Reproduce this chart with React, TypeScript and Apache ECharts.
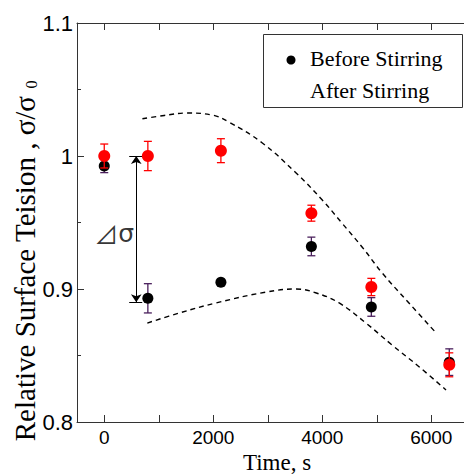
import React, { useEffect, useRef } from "react";
import * as echarts from "echarts";

// Axis ticks / labels
const xTickValues = [0, 1000, 2000, 3000, 4000, 5000, 6000];
const xLabelValues = [0, 2000, 4000, 6000];
const xMin = -500;
const xMax = 6600;
const yMin = 0.8;
const yMax = 1.1;
const yInterval = 0.1;

// Before stirring (black)
const beforeX = [0, 800, 2140, 3800, 4900, 6330];
const beforeY = [0.9925, 0.893, 0.905, 0.932, 0.8865, 0.845];
const beforeErr = [0.005, 0.011, 0.002, 0.007, 0.007, 0.01];

// After stirring (red)
const afterX = [0, 800, 2140, 3800, 4900, 6330];
const afterY = [1.0, 1.0, 1.004, 0.957, 0.9015, 0.843];
const afterErr = [0.009, 0.011, 0.009, 0.006, 0.0065, 0.009];

// Dashed envelope curves
const upperX = [700, 1100, 1500, 1980, 2290, 2900, 3520, 4000, 4360, 4730, 5100, 5590, 6090];
const upperY = [1.028, 1.0305, 1.0323, 1.0308, 1.0255, 1.0098, 0.9872, 0.9669, 0.9496, 0.9316, 0.912, 0.8895, 0.8669];
const lowerX = [790, 1380, 2050, 2970, 3520, 3890, 4310, 4800, 5280, 5780, 6270];
const lowerY = [0.8744, 0.882, 0.8895, 0.8977, 0.9, 0.897, 0.8895, 0.8744, 0.8579, 0.8414, 0.8241];

// Delta sigma annotation
const arrowX = 587;
const arrowTop = 1.0;
const arrowBottom = 0.89;
const capX = [458, 697];
const deltaLabelPos = [183, 0.942];

const legendNames = ["Before Stirring", "After Stirring"];

function errRender(color: string) {
  return (params: any, api: any) => {
    const x = api.value(0);
    const lo = api.value(1);
    const hi = api.value(2);
    const a = api.coord([x, hi]);
    const b = api.coord([x, lo]);
    const w = 4;
    const style = { stroke: color, lineWidth: 1.3, fill: "none" };
    return {
      type: "group",
      children: [
        { type: "line", shape: { x1: a[0], y1: a[1], x2: b[0], y2: b[1] }, style },
        { type: "line", shape: { x1: a[0] - w, y1: a[1], x2: a[0] + w, y2: a[1] }, style },
        { type: "line", shape: { x1: b[0] - w, y1: b[1], x2: b[0] + w, y2: b[1] }, style },
      ],
    };
  };
}

export default function App() {
  const ref = useRef<HTMLDivElement>(null);
  useEffect(() => {
    if (!ref.current) return;
    const chart = echarts.init(ref.current, undefined, { renderer: "svg" });
    const axisColor = "#333";
    const option: any = {
      animation: false,
      backgroundColor: "#fff",
      grid: { left: 77, top: 23, right: 0, bottom: 52, containLabel: false },
      xAxis: [
        {
          type: "value",
          min: xMin,
          max: xMax,
          position: "bottom",
          axisLine: { show: true, onZero: false, lineStyle: { color: axisColor, width: 1 } },
          axisTick: { show: true, inside: true, length: 7, customValues: xTickValues, lineStyle: { color: axisColor } },
          axisLabel: {
            show: true,
            customValues: xLabelValues,
            fontSize: 19,
            fontFamily: "Liberation Sans",
            color: "#000",
            margin: 6,
            formatter: (v: number) => String(v),
          },
          splitLine: { show: false },
        },
        {
          type: "value",
          min: xMin,
          max: xMax,
          position: "top",
          axisLine: { show: true, onZero: false, lineStyle: { color: axisColor, width: 1 } },
          axisTick: { show: true, inside: true, length: 7, customValues: xTickValues, lineStyle: { color: axisColor } },
          axisLabel: { show: false },
          splitLine: { show: false },
        },
      ],
      yAxis: {
        type: "value",
        min: yMin,
        max: yMax,
        interval: yInterval,
        axisLine: { show: true, onZero: false, lineStyle: { color: axisColor, width: 1 } },
        axisTick: { show: true, inside: true, length: 7, lineStyle: { color: axisColor } },
        minorTick: { show: true, splitNumber: 2, length: 4, lineStyle: { color: axisColor } },
        axisLabel: {
          fontSize: 22,
          fontFamily: "Liberation Sans",
          color: "#000",
          margin: 4,
          formatter: (v: number) => String(+v.toFixed(2)),
        },
        splitLine: { show: false },
        minorSplitLine: { show: false },
      },
      series: [
        {
          name: "upper",
          type: "line",
          data: upperX.map((x, i) => [x, upperY[i]]),
          smooth: 0.4,
          symbol: "none",
          lineStyle: { color: "#000", width: 1.4, type: [5, 4] },
          z: 1,
        },
        {
          name: "lower",
          type: "line",
          data: lowerX.map((x, i) => [x, lowerY[i]]),
          smooth: 0.4,
          symbol: "none",
          lineStyle: { color: "#000", width: 1.4, type: [5, 4] },
          z: 1,
        },
        {
          name: "beforeErr",
          type: "custom",
          renderItem: errRender("#4a1f5c"),
          data: beforeX.map((x, i) => [x, beforeY[i] - beforeErr[i], beforeY[i] + beforeErr[i]]),
          encode: { x: 0, y: [1, 2] },
          z: 2,
        },
        {
          name: legendNames[0],
          type: "scatter",
          data: beforeX.map((x, i) => [x, beforeY[i]]),
          symbolSize: 11,
          itemStyle: { color: "#000", opacity: 1 },
          z: 3,
        },
        {
          name: "afterErr",
          type: "custom",
          renderItem: errRender("#ff0000"),
          data: afterX.map((x, i) => [x, afterY[i] - afterErr[i], afterY[i] + afterErr[i]]),
          encode: { x: 0, y: [1, 2] },
          z: 4,
        },
        {
          name: legendNames[1],
          type: "scatter",
          data: afterX.map((x, i) => [x, afterY[i]]),
          symbolSize: 12,
          itemStyle: { color: "#ff0000", opacity: 1 },
          z: 5,
        },
        {
          name: "annotation",
          type: "scatter",
          data: [deltaLabelPos],
          symbolSize: 1,
          itemStyle: { color: "rgba(0,0,0,0)" },
          label: {
            show: true,
            position: "inside",
            formatter: "{t|⊿}{s|σ}",
            rich: {
              t: { fontSize: 24, fontFamily: "Noto Sans CJK JP", color: "#000" },
              s: { fontSize: 25, fontFamily: "DejaVu Sans", color: "#000" },
            },
          },
          silent: true,
          z: 6,
          markLine: {
            silent: true,
            symbol: ["arrow", "arrow"],
            symbolSize: 8,
            label: { show: false },
            lineStyle: { color: "#000", width: 1, type: "solid" },
            data: [
              [{ coord: [arrowX, arrowTop] }, { coord: [arrowX, arrowBottom] }],
              [
                { coord: [capX[0], arrowTop], symbol: "none" },
                { coord: [capX[1], arrowTop], symbol: "none" },
              ],
              [
                { coord: [capX[0], arrowBottom], symbol: "none" },
                { coord: [capX[1], arrowBottom], symbol: "none" },
              ],
            ],
          },
        },
      ],
      graphic: [
        {
          type: "rect",
          shape: { x: 263.5, y: 34.5, width: 199, height: 73 },
          style: { fill: "#fff", stroke: "#333", lineWidth: 1 },
          z: 100,
        },
        {
          type: "circle",
          shape: { cx: 291, cy: 60, r: 4.5 },
          style: { fill: "#000" },
          z: 101,
        },
        {
          type: "text",
          x: 310,
          y: 58,
          style: {
            text: legendNames[0],
            font: "22px 'Liberation Serif'",
            fill: "#000",
            textAlign: "left",
            textVerticalAlign: "middle",
          },
          z: 101,
        },
        {
          type: "text",
          x: 310,
          y: 90,
          style: {
            text: legendNames[1],
            font: "22px 'Liberation Serif'",
            fill: "#000",
            textAlign: "left",
            textVerticalAlign: "middle",
          },
          z: 101,
        },
        {
          type: "text",
          x: 277,
          y: 462,
          style: {
            text: "Time, s",
            font: "23px 'Liberation Serif'",
            fill: "#000",
            textAlign: "center",
            textVerticalAlign: "middle",
          },
        },
        {
          type: "text",
          x: 25,
          y: 261,
          rotation: Math.PI / 2,
          style: {
            text: "Relative Surface Teision , σ/σ {sub|0}",
            fontFamily: "Liberation Serif",
            fontSize: 29,
            fill: "#000",
            textAlign: "center",
            textVerticalAlign: "middle",
            rich: {
              sub: { fontSize: 16, fontFamily: "Liberation Serif", verticalAlign: "bottom", padding: [9, 0, 0, 0] },
            },
          },
        },
      ],
    };
    chart.setOption(option);
    return () => chart.dispose();
  }, []);
  return (
    <div
      ref={ref}
      style={{ position: "absolute", left: 0, top: 0, width: 464, height: 474 }}
    />
  );
}
